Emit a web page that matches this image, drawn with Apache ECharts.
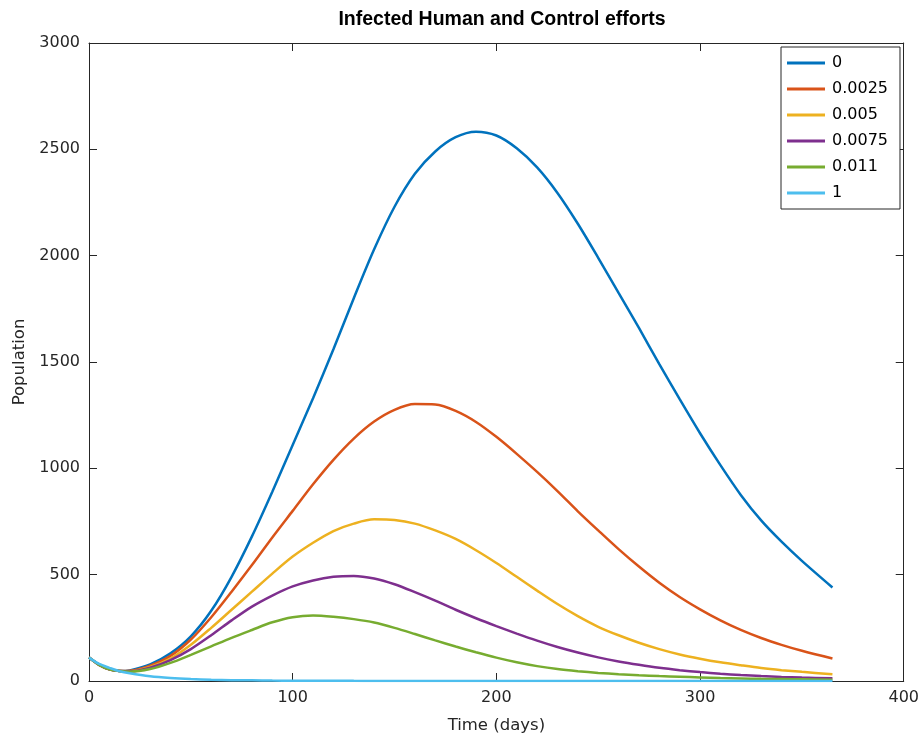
<!DOCTYPE html>
<html>
<head>
<meta charset="utf-8">
<script src="https://cdn.jsdelivr.net/npm/echarts@6/dist/echarts.min.js"></script>
<style>
html,body{margin:0;padding:0;background:#fff;overflow:hidden;}
#c{width:922px;height:739px;}
</style>
</head>
<body>
<div id="c"></div>
<script>
// ---- data ----
const time = [0,5,10,15,20,30,40,50,60,70,80,90,100,110,120,130,140,150,160,170,180,190,200,210,220,230,240,250,260,270,280,290,300,310,320,330,340,350,365];
const seriesNames = ['0','0.0025','0.005','0.0075','0.011','1'];
const u0     = [110,76,55,47,50,78,130,210,330,490,680,890,1110,1330,1560,1800,2030,2230,2385,2490,2557,2583,2565,2505,2415,2295,2150,1990,1825,1660,1490,1325,1165,1015,875,755,655,565,440];
const u0025  = [110,76,55,47,48,72,118,195,300,420,545,675,800,925,1040,1140,1220,1275,1302,1300,1270,1218,1148,1068,983,893,798,708,620,538,462,395,337,285,240,202,170,142,106];
const u005   = [110,76,55,47,46,66,105,170,250,335,420,505,585,650,705,740,760,757,740,708,668,615,555,490,425,362,305,255,215,180,150,125,105,88,74,61,51,43,32];
const u0075  = [110,76,55,47,45,62,98,150,215,285,350,402,445,473,490,494,482,455,418,378,335,295,258,223,190,160,134,111,92,76,62,51,42,34,28,23,19,16,13];
const u011   = [110,76,55,47,44,56,85,123,163,203,240,276,300,308,302,291,275,250,221,191,162,135,110,88,70,56,46,38,32,27,23,20,17,14,12,10,9,8,6];
const u1     = [110,80,62,46,36,22,14,9,6,4,3,2,1.5,1,0.8,0.6,0.5,0.4,0.3,0.3,0.2,0.2,0.2,0.1,0.1,0.1,0.1,0.1,0.1,0.1,0.1,0.1,0.1,0.1,0.1,0.1,0.1,0.1,0.1];
const allValues = [u0,u0025,u005,u0075,u011,u1];
const colors = ['#0072BD','#D95319','#EDB120','#7E2F8E','#77AC30','#4DBEEE'];
const xTicks = [0,100,200,300,400];
const yTicks = [0,500,1000,1500,2000,2500,3000];

const font = 'DejaVu Sans, Verdana, sans-serif';
const titleFont = 'Liberation Sans, Arial, Helvetica, sans-serif';
const axisCol = '#262626';

const chart = echarts.init(document.getElementById('c'));
const series = seriesNames.map((n,i)=>({
  name:n, type:'line', xAxisIndex:0, yAxisIndex:0,
  data: time.map((t,j)=>[t, allValues[i][j]]),
  showSymbol:false, smooth:0.3,
  lineStyle:{width:2.5, color:colors[i]}, itemStyle:{color:colors[i]},
  z: 2+i
}));

const baseAxis = {
  axisLine:{show:true, onZero:false, lineStyle:{color:axisCol, width:1}},
  axisTick:{show:true, inside:true, length:8, lineStyle:{color:axisCol}},
  splitLine:{show:false}
};

chart.setOption({
  animation:false,
  backgroundColor:'#fff',
  title:{text:'Infected Human and Control efforts', left:497, top:5, textAlign:'center',
    textStyle:{fontFamily:titleFont, fontWeight:'bold', fontSize:19.5, color:'#000'}},
  grid:{left:89, right:17, top:43, bottom:53},
  legend:{
    orient:'vertical', left:781, top:47,
    data:seriesNames, icon:'rect', itemWidth:38, itemHeight:3, itemGap:10,
    padding:[8,12,8,6], borderColor:axisCol, borderWidth:1, backgroundColor:'#fff',
    textStyle:{fontFamily:font, fontSize:16, color:'#000', lineHeight:16, padding:[0,0,0,2]}
  },
  xAxis:[
    Object.assign({}, baseAxis, {type:'value', position:'bottom', min:xTicks[0], max:xTicks[xTicks.length-1], interval:100,
      name:'Time (days)', nameLocation:'middle', nameGap:36,
      nameTextStyle:{fontFamily:font, fontSize:16.5, color:axisCol},
      axisLabel:{fontFamily:font, fontSize:16, color:axisCol, margin:9, formatter:v=>String(v)}}),
    Object.assign({}, baseAxis, {type:'value', position:'top', min:0, max:400, interval:100, axisLabel:{show:false}})
  ],
  yAxis:[
    Object.assign({}, baseAxis, {type:'value', position:'left', min:yTicks[0], max:yTicks[yTicks.length-1], interval:500,
      name:'Population', nameLocation:'middle', nameGap:55,
      nameTextStyle:{fontFamily:font, fontSize:16.5, color:axisCol},
      axisLabel:{fontFamily:font, fontSize:16, color:axisCol, margin:9, formatter:v=>String(v)}}),
    Object.assign({}, baseAxis, {type:'value', position:'right', min:0, max:3000, interval:500, axisLabel:{show:false}})
  ],
  series: series
});
</script>
</body>
</html>
